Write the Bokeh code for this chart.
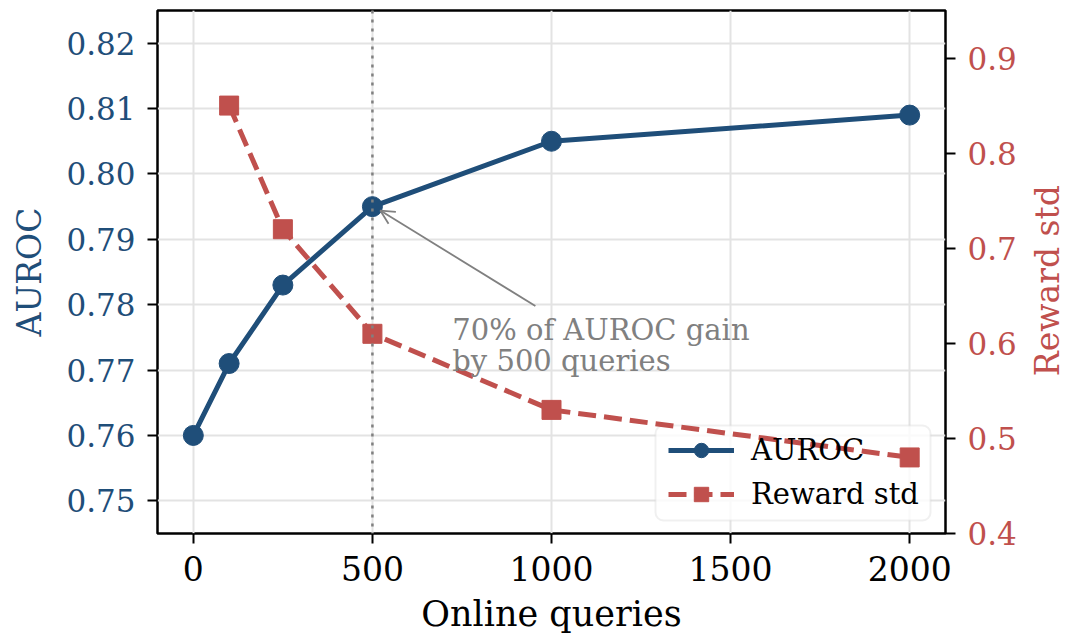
import math
from bokeh.plotting import figure
from bokeh.models import (Range1d, LinearAxis, FixedTicker, NumeralTickFormatter, Legend,
                          LegendItem, Arrow, OpenHead, Label, Span, BoxAnnotation)
from bokeh.embed import file_html
from bokeh.resources import INLINE

# ---- data ----
queries_auroc = [0, 100, 250, 500, 1000, 2000]
auroc = [0.760, 0.771, 0.783, 0.795, 0.805, 0.809]
queries_std = [100, 250, 500, 1000, 2000]
reward_std = [0.85, 0.72, 0.61, 0.53, 0.48]
x_ticks = [0, 500, 1000, 1500, 2000]
auroc_ticks = [0.75, 0.76, 0.77, 0.78, 0.79, 0.80, 0.81, 0.82]
std_ticks = [0.4, 0.5, 0.6, 0.7, 0.8, 0.9]
annot_lines = ["70% of AUROC gain", "by 500 queries"]
highlight_q = 500

BLUE = "#1f4e79"
RED = "#c0504d"
GRAY = "#808080"
FONT = "DejaVu Serif"

FW, FH = 788, 523
X0, X1 = -100, 2100
Y0, Y1 = 0.745, 0.825

p = figure(frame_width=FW, frame_height=FH, output_backend="svg", toolbar_location=None,
           x_range=Range1d(X0, X1), y_range=Range1d(Y0, Y1),
           min_border_left=157, min_border_right=0, min_border_top=10, min_border_bottom=0)
p.extra_y_ranges = {"std": Range1d(0.40, 0.95)}

p.outline_line_color = "black"
p.outline_line_width = 2.5
p.background_fill_color = "white"
p.border_fill_color = "white"

# grids
p.xgrid.ticker = FixedTicker(ticks=x_ticks)
p.ygrid.ticker = FixedTicker(ticks=auroc_ticks)
for g in (p.xgrid[0], p.ygrid[0]):
    g.grid_line_color = "#e3e3e3"
    g.grid_line_width = 2

# axes styling
def style_axis(ax, color, tick_size, label_size):
    ax.axis_line_color = None
    ax.major_tick_line_color = "black"
    ax.major_tick_line_width = 2
    ax.major_tick_out = 10
    ax.major_tick_in = 0
    ax.minor_tick_line_color = None
    ax.major_label_text_font = FONT
    ax.major_label_text_font_size = tick_size
    ax.major_label_text_color = color
    ax.axis_label_text_font = FONT
    ax.axis_label_text_font_size = label_size
    ax.axis_label_text_font_style = "normal"
    ax.axis_label_text_color = color

xa = p.xaxis[0]
style_axis(xa, "black", "33px", "35px")
xa.ticker = FixedTicker(ticks=x_ticks)
xa.axis_label = "Online queries"
xa.major_label_standoff = 12
xa.axis_label_standoff = 10

ya = p.yaxis[0]
style_axis(ya, BLUE, "31px", "33px")
ya.ticker = FixedTicker(ticks=auroc_ticks)
ya.formatter = NumeralTickFormatter(format="0.00")
ya.axis_label = "AUROC"
ya.major_label_standoff = 12
ya.axis_label_standoff = 14

# right axis: title reads bottom-to-top; anchored at the bottom and padded with
# non-breaking spaces so the visible words sit centred along the axis
ra = LinearAxis(y_range_name="std")
style_axis(ra, RED, "31px", "33px")
ra.ticker = FixedTicker(ticks=std_ticks)
ra.formatter = NumeralTickFormatter(format="0.0")
ra.major_label_standoff = 12
ra.axis_label = "\u00a0" * 15 + "Reward std"
ra.axis_label_orientation = math.pi / 2
ra.axis_label_align = "start"
ra.axis_label_standoff = 28
p.add_layout(ra, "right")

# layout helpers: frame pixel -> data coordinates
def sx(px):
    return X0 + (px / FW) * (X1 - X0)

def sy(px):
    return Y1 - (px / FH) * (Y1 - Y0)

# legend background box (below the data lines, above the grid)
p.add_layout(BoxAnnotation(left=sx(498), right=sx(773), top=sy(415), bottom=sy(510),
                           fill_color="white", fill_alpha=0.8, line_color="#cccccc",
                           line_width=2, border_radius=8, level="underlay"))

# vertical dotted line
p.add_layout(Span(location=highlight_q, dimension="height", line_color=GRAY,
                  line_width=2.5, line_dash="3 6"))

# series
l1 = p.line(queries_auroc, auroc, line_color=BLUE, line_width=5)
s1 = p.scatter(queries_auroc, auroc, marker="circle", size=20, fill_color=BLUE, line_color=BLUE)
l2 = p.line(queries_std, reward_std, line_color=RED, line_width=5, line_dash="18 8",
            y_range_name="std")
s2 = p.scatter(queries_std, reward_std, marker="square", size=19, fill_color=RED, line_color=RED,
               y_range_name="std")

# annotation
hi = queries_auroc.index(highlight_q)
p.add_layout(Arrow(end=OpenHead(size=14, line_color=GRAY, line_width=1.8),
                   x_start=955, y_start=0.7798, x_end=highlight_q + 22, y_end=auroc[hi] - 0.0006,
                   line_color=GRAY, line_width=1.8))
p.add_layout(Label(x=723, y=0.7761, text=annot_lines[0], text_font=FONT, text_font_size="29px",
                   text_color=GRAY, text_baseline="alphabetic"))
p.add_layout(Label(x=723, y=0.7714, text=annot_lines[1], text_font=FONT, text_font_size="29px",
                   text_color=GRAY, text_baseline="alphabetic"))

legend = Legend(items=[LegendItem(label="AUROC", renderers=[l1, s1]),
                       LegendItem(label="Reward std", renderers=[l2, s2])],
                location=(511, 21))
legend.label_text_font = FONT
legend.label_text_font_size = "29px"
legend.label_text_color = "black"
legend.glyph_width = 66
legend.glyph_height = 36
legend.label_height = 36
legend.label_standoff = 17
legend.spacing = 8
legend.padding = 8
legend.margin = 0
legend.border_line_color = None
legend.background_fill_alpha = 0.0
p.add_layout(legend)

open("out.html", "w").write(file_html(p, INLINE))
